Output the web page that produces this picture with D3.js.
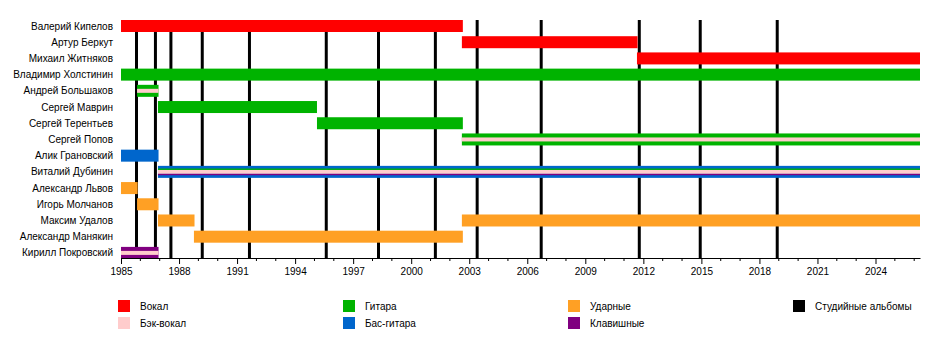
<!DOCTYPE html>
<html>
<head>
<meta charset="utf-8">
<script src="https://cdn.jsdelivr.net/npm/d3@7"></script>
<style>
  html, body { margin: 0; padding: 0; background: #fff; }
  svg { display: block; font-family: "Liberation Sans", Arial, sans-serif; }
</style>
</head>
<body>
<svg id="chart" width="950" height="348"></svg>
<script>
// Band line-up, one row per musician (top to bottom)
const members = [
  "Валерий Кипелов", "Артур Беркут", "Михаил Житняков", "Владимир Холстинин",
  "Андрей Большаков", "Сергей Маврин", "Сергей Терентьев", "Сергей Попов",
  "Алик Грановский", "Виталий Дубинин", "Александр Львов", "Игорь Молчанов",
  "Максим Удалов", "Александр Манякин", "Кирилл Покровский"
];

// Roles and their colours (legend order)
const roles = ["Вокал", "Бэк-вокал", "Гитара", "Бас-гитара", "Ударные", "Клавишные"];
const roleColors = ["#ff0000", "#ffcccc", "#00b300", "#0066cc", "#ffa024", "#800080"];
const albumLabel = "Студийные альбомы";

const NOW = 2026.3;

// Membership periods: [member, role, from, to] (first role of a member is the main one)
const spans = [
  ["Валерий Кипелов", "Вокал", 1985, 2002.67],
  ["Артур Беркут", "Вокал", 2002.62, 2011.7],
  ["Михаил Житняков", "Вокал", 2011.67, NOW],
  ["Владимир Холстинин", "Гитара", 1985, NOW],
  ["Андрей Большаков", "Гитара", 1985.83, 1986.94],
  ["Андрей Большаков", "Бэк-вокал", 1985.83, 1986.94],
  ["Сергей Маврин", "Гитара", 1986.91, 1995.13],
  ["Сергей Терентьев", "Гитара", 1995.13, 2002.67],
  ["Сергей Попов", "Гитара", 2002.62, NOW],
  ["Сергей Попов", "Бэк-вокал", 2002.62, NOW],
  ["Алик Грановский", "Бас-гитара", 1985, 1986.94],
  ["Виталий Дубинин", "Бас-гитара", 1986.91, NOW],
  ["Виталий Дубинин", "Гитара", 1986.91, NOW],
  ["Виталий Дубинин", "Бэк-вокал", 1986.91, NOW],
  ["Виталий Дубинин", "Клавишные", 1986.91, NOW],
  ["Александр Львов", "Ударные", 1985, 1985.86],
  ["Игорь Молчанов", "Ударные", 1985.83, 1986.94],
  ["Максим Удалов", "Ударные", 1986.91, 1988.8],
  ["Максим Удалов", "Ударные", 2002.62, NOW],
  ["Александр Манякин", "Ударные", 1988.77, 2002.67],
  ["Кирилл Покровский", "Клавишные", 1985, 1986.94],
  ["Кирилл Покровский", "Бэк-вокал", 1985, 1986.94]
];

// Studio album release dates
const albums = [1985.8, 1986.78, 1987.58, 1989.2, 1991.64, 1995.61, 1998.31,
                2001.25, 2003.41, 2006.72, 2011.79, 2014.94, 2018.92];

// Axis ticks
const majorTicks = [1985, 1988, 1991, 1994, 1997, 2000, 2003, 2006, 2009, 2012, 2015, 2018, 2021, 2024];
const minorTicks = d3.range(1985, 2027);

const svg = d3.select("#chart");
const plotLeft = 121, plotRight = 920, plotTop = 20, axisY = 258;

const x = d3.scaleLinear().domain([1985, NOW]).range([plotLeft, plotRight]);
const y = d3.scalePoint().domain(members).range([26, 252.9]);
const color = d3.scaleOrdinal().domain(roles).range(roleColors);
const barH = 12;

// Album markers (behind the bars)
svg.append("g").selectAll("line")
  .data(albums).join("line")
  .attr("x1", d => x(d)).attr("x2", d => x(d))
  .attr("y1", plotTop).attr("y2", axisY)
  .attr("stroke", "#000").attr("stroke-width", 3);

// Bars: main role fills the row, further roles become inner stripes
const byMember = d3.group(spans, d => d[0]);
const barG = svg.append("g");
byMember.forEach((rows, name) => {
  const main = rows[0][1];
  const cy = y(name);
  const mainRows = rows.filter(r => r[1] === main);
  barG.selectAll(null).data(mainRows).join("rect")
    .attr("x", d => x(d[2])).attr("width", d => x(d[3]) - x(d[2]))
    .attr("y", cy - barH / 2).attr("height", barH)
    .attr("fill", d => color(d[1]));

  const extra = rows.filter(r => r[1] !== main);
  const centre = extra.find(r => r[1] === "Бэк-вокал");
  const others = extra.filter(r => r !== centre);
  const midH = 4, sideH = 1.35;
  const stripes = [];
  if (centre) stripes.push({ d: centre, y0: cy - midH / 2, h: midH });
  if (others[0]) stripes.push({ d: others[0], y0: cy - midH / 2 - sideH, h: sideH });
  if (others[1]) stripes.push({ d: others[1], y0: cy + midH / 2, h: sideH });
  barG.selectAll(null).data(stripes).join("rect")
    .attr("x", s => x(s.d[2])).attr("width", s => x(s.d[3]) - x(s.d[2]))
    .attr("y", s => s.y0).attr("height", s => s.h)
    .attr("fill", s => color(s.d[1]));
});

// Member names
svg.append("g").selectAll("text")
  .data(members).join("text")
  .attr("x", plotLeft - 8).attr("y", d => y(d))
  .attr("dy", "0.35em")
  .attr("text-anchor", "end")
  .attr("font-size", 10)
  .attr("fill", "#000")
  .text(d => d);

// Time axis with yearly minor ticks
const axisG = svg.append("g").attr("transform", `translate(0,${axisY})`);
axisG.append("g").selectAll("line")
  .data(minorTicks.filter(t => !majorTicks.includes(t) && x(t) <= plotRight))
  .join("line")
  .attr("x1", d => x(d)).attr("x2", d => x(d))
  .attr("y1", 0).attr("y2", 3)
  .attr("stroke", "#000");
axisG.call(d3.axisBottom(x).tickValues(majorTicks).tickFormat(d3.format("d"))
    .tickSize(6).tickSizeOuter(0).tickPadding(4))
  .call(g => g.selectAll("text").attr("font-size", 10).attr("fill", "#000")
    .attr("font-family", "Liberation Sans, Arial, sans-serif"))
  .call(g => g.selectAll("path, line").attr("stroke", "#000"));

// Legend
const legendItems = roles.map((r, i) => ({ label: r, color: roleColors[i] }))
  .concat([{ label: albumLabel, color: "#000" }]);
const legend = svg.append("g").selectAll("g")
  .data(legendItems).join("g")
  .attr("transform", (d, i) => `translate(${118 + Math.floor(i / 2) * 225},${300 + (i % 2) * 17})`);
legend.append("rect").attr("width", 12).attr("height", 12).attr("fill", d => d.color);
legend.append("text").attr("x", 22).attr("y", 6).attr("dy", "0.35em")
  .attr("font-size", 10).attr("fill", "#000").text(d => d.label);
</script>
</body>
</html>
